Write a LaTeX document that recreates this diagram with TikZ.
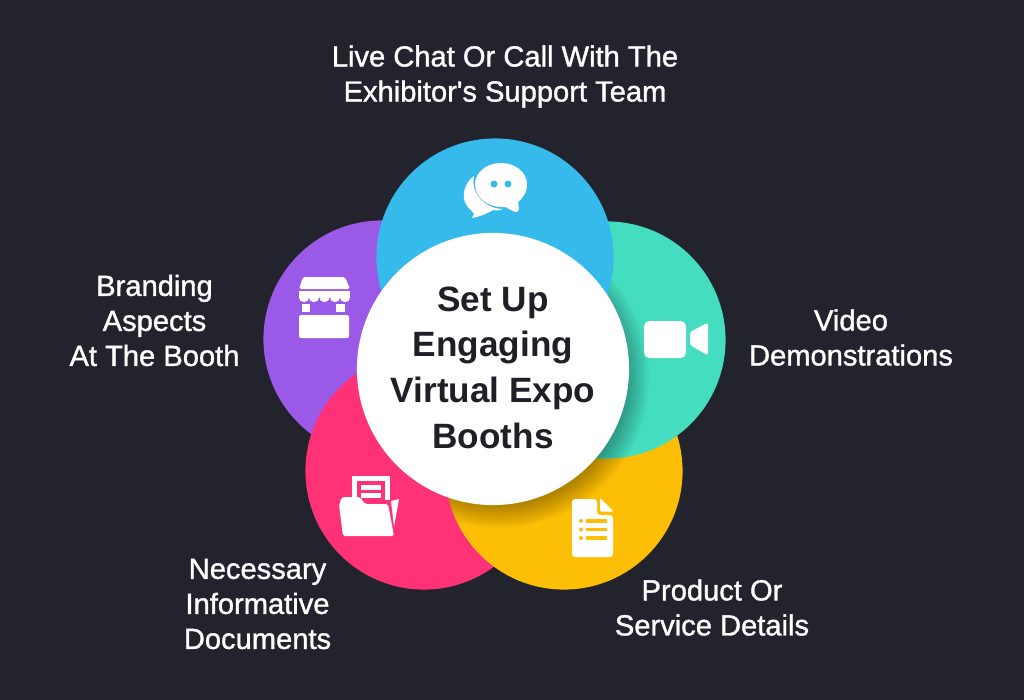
\documentclass[tikz,border=0pt]{standalone}
\usepackage{fontspec}
\setmainfont{Liberation Sans}
\newfontfamily\labelfont[FakeBold=1.2]{Liberation Sans}
\newfontfamily\titlefont{Liberation Sans}[BoldFont={Liberation Sans Bold}]
\usepackage{xcolor}
\definecolor{bgdark}{HTML}{22232C}
\definecolor{chatblue}{HTML}{36BAEB}
\definecolor{videoteal}{HTML}{44DDC0}
\definecolor{docyellow}{HTML}{FDBF06}
\definecolor{folderpink}{HTML}{FF3278}
\definecolor{boothpurple}{HTML}{9B59E8}
\definecolor{hubtext}{HTML}{1F2027}
\tikzset{
  petal/.style={circle, minimum size=2.37cm, inner sep=0pt},
  caption/.style={align=center, text=white, font=\labelfont\fontsize{8.28}{9.96}\selectfont},
  softshadow/.style={fill=black, opacity=.028},
}
\newcommand{\hubshadow}{\foreach \rr in {128,130,...,150} \fill[softshadow] (499,378) circle (\rr);}

\begin{document}
\begin{tikzpicture}[x=0.01cm, y=-0.01cm]

\fill[bgdark] (0,0) rectangle (1024,700);
\useasboundingbox (0,0) rectangle (1024,700);

% petals, back to front
\node[petal, fill=boothpurple] (booth) at (382,339) {};
\node[petal, fill=folderpink] (folder) at (424,471) {};
\node[petal, fill=docyellow] (doc) at (564,471) {};
\begin{scope}
\clip (564,471) circle (118.5);
\hubshadow
\end{scope}

\node[petal, fill=videoteal] (video) at (607,340) {};
\begin{scope}
\clip (607,340) circle (118.5);
\hubshadow
\end{scope}

\node[petal, fill=chatblue] (chat) at (495,257) {};

% hub
\node[circle, fill=white, minimum size=2.72cm, inner sep=0pt] (hub) at (493,369) {};
\node[text=hubtext, font=\titlefont\bfseries\fontsize{10}{13}\selectfont, align=center] (hubtitle) at (493,367.5)
  {Set Up\\Engaging\\Virtual Expo\\Booths};

% captions
\node[caption] (chatcap) at (505,76.5) {Live Chat Or Call With The\\Exhibitor's Support Team};
\node[caption] (boothcap) at (154.5,320.5) {Branding\\Aspects\\At The Booth};
\node[caption] (videocap) at (851,337.5) {Video\\Demonstrations};
\node[caption] (doccap) at (712,607.5) {Product Or\\Service Details};
\node[caption] (foldercap) at (257.5,604) {Necessary\\Informative\\Documents};

% chat icon
\fill[white] (474,176) .. controls (465,182) and (460,197) .. (467,206)
  .. controls (470,210) and (473,211) .. (474,214) -- (472,218)
  .. controls (482,216) and (488,213) .. (493,210)
  .. controls (497,211) and (501,210) .. (503,209)
  .. controls (488,209) and (470,196) .. (474,176) -- cycle;
\fill[white] (501,163) .. controls (516,163) and (527,173) .. (527,184)
  .. controls (527,193) and (522,199) .. (518,202) -- (519,209)
  .. controls (519,212) and (517,212) .. (515,212) -- (505,207)
  .. controls (488,208) and (475,198) .. (475,184)
  .. controls (475,173) and (486,163) .. (501,163) -- cycle;
\fill[chatblue] (494,184) circle (3.5) (508,184) circle (3.5);

% booth icon
\fill[white, rounded corners=.5pt] (303,277) -- (345,277) -- (350,289) -- (299,289) -- cycle;
\fill[white] (299,291) rectangle (350,297);
\foreach \sx in {304,314,324.5,335,345}
  \fill[white] (\sx,297) circle (5.2);
\fill[white] (302,304) rectangle (310,312);
\fill[white] (336,304) rectangle (345,312);
\fill[white, rounded corners=.6pt] (299,315) rectangle (349,338);

% video icon
\fill[white, rounded corners=1.5pt] (644,321) rectangle (686,358);
\fill[white, rounded corners=.7pt] (690,332) -- (708,322.5) -- (708,355.5) -- (690,345) -- cycle;

% document icon
\fill[white, rounded corners=.9pt] (572,499) -- (597,499) -- (597,515) -- (613,515) -- (613,557) -- (572,557) -- cycle;
\fill[white, rounded corners=.3pt] (600,498) -- (613.5,511.5) -- (600,511.5) -- cycle;
\foreach \ly in {521,529.5,538} {
  \fill[docyellow] (581,\ly) circle (2);
  \fill[docyellow] (586,\ly-1.7) rectangle (607,\ly+1.7);
}

% folder icon
\fill[white] (352,476) rectangle (390,505);
\fill[folderpink] (357,481) rectangle (385,505);
\fill[white] (361,485) rectangle (381,489.5);
\fill[white] (361,493) rectangle (381,497.5);
\fill[folderpink] (345,500) rectangle (392,505);
\fill[white] (391,501) -- (399,499) -- (394,527) -- cycle;
\fill[white, rounded corners=.5pt] (342,497) -- (360,497) -- (365,504) -- (388,504) -- (394,536) -- (343,536) -- (339,505) -- cycle;

\end{tikzpicture}
\end{document}
